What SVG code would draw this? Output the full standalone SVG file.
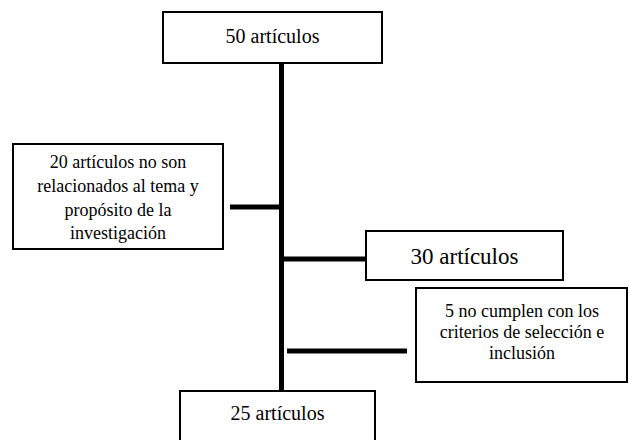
<svg xmlns="http://www.w3.org/2000/svg" width="629" height="440" viewBox="0 0 629 440">
<style>
.box{fill:#fff;stroke:#000;stroke-width:2}
.t{font-family:'Liberation Serif','DejaVu Serif','Times New Roman',serif;fill:#000;text-anchor:middle}
.c{stroke:#000;stroke-width:5;fill:none}
</style>
<rect width="629" height="440" fill="#fff"/>
<g id="connectors">
<line class="c" x1="281.5" y1="63" x2="281.5" y2="391"/>
<line class="c" x1="230" y1="207" x2="281.5" y2="207"/>
<line class="c" x1="281.5" y1="259" x2="366" y2="259"/>
<line class="c" x1="287" y1="351" x2="407" y2="351"/>
</g>
<g id="n50">
<rect class="box" x="163" y="12" width="219" height="51"/>
<text class="t" x="272.5" y="43" font-size="20">50 artículos</text>
</g>
<g id="n20">
<rect class="box" x="13" y="144" width="210" height="105"/>
<text class="t" font-size="18"><tspan x="118" y="168">20 artículos no son</tspan><tspan x="118" y="192">relacionados al tema y</tspan><tspan x="118" y="216">propósito de la</tspan><tspan x="118" y="239">investigación</tspan></text>
</g>
<g id="n30">
<rect class="box" x="366" y="231" width="197" height="49"/>
<text class="t" x="464.5" y="264" font-size="23">30 artículos</text>
</g>
<g id="n5">
<rect class="box" x="416" y="288" width="211" height="94"/>
<text class="t" font-size="18"><tspan x="522" y="317">5 no cumplen con los</tspan><tspan x="522" y="338">criterios de selección e</tspan><tspan x="522" y="359">inclusión</tspan></text>
</g>
<g id="n25">
<rect class="box" x="180" y="391" width="195" height="50"/>
<text class="t" x="277.5" y="420" font-size="20">25 artículos</text>
</g>
</svg>
